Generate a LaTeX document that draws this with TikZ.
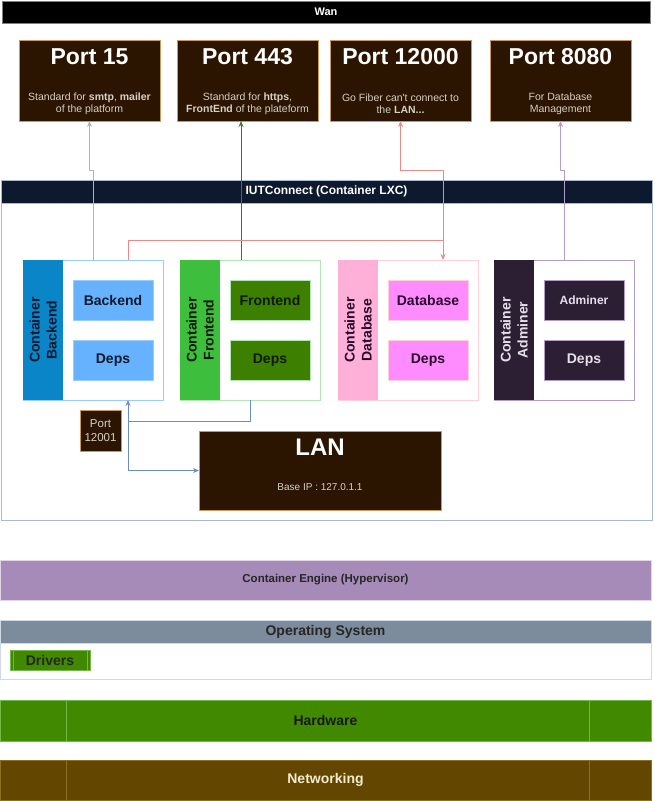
\documentclass[tikz,border=0pt]{standalone}
\usepackage{fontspec}
\setmainfont{Liberation Sans}
\usetikzlibrary{arrows.meta,positioning}
\definecolor{portfill}{HTML}{2B1500}
\definecolor{portedge}{HTML}{C99A5B}
\definecolor{porttext}{HTML}{D8CFC6}
\definecolor{lxchead}{HTML}{0D1A2E}
\definecolor{lxcedge}{HTML}{A9B8D3}
\definecolor{bkside}{HTML}{0A85C7}
\definecolor{bkedge}{HTML}{99CCFF}
\definecolor{bkinner}{HTML}{66B2FF}
\definecolor{bkink}{HTML}{0D1A2E}
\definecolor{frside}{HTML}{3DBF3D}
\definecolor{fredge}{HTML}{B3E6B3}
\definecolor{frinner}{HTML}{3D8000}
\definecolor{frink}{HTML}{0F1A05}
\definecolor{dbside}{HTML}{FFB0D8}
\definecolor{dbedge}{HTML}{FFD0D8}
\definecolor{dbinner}{HTML}{FF8CFF}
\definecolor{dbink}{HTML}{2A0A2A}
\definecolor{adside}{HTML}{2D1F33}
\definecolor{adedge}{HTML}{B39CC7}
\definecolor{adinner}{HTML}{2D1F33}
\definecolor{adink}{HTML}{E6E0EA}
\definecolor{smtpline}{HTML}{B3B3B3}
\definecolor{webline}{HTML}{3B7A2B}
\definecolor{dbline}{HTML}{EE8A86}
\definecolor{admline}{HTML}{B59ACC}
\definecolor{lanline}{HTML}{6C8EBF}
\definecolor{engfill}{HTML}{A68BB8}
\definecolor{engedge}{HTML}{E1D5E7}
\definecolor{osfill}{HTML}{7D8C9C}
\definecolor{osedge}{HTML}{D0DAE6}
\definecolor{hwfill}{HTML}{418A00}
\definecolor{hwedge}{HTML}{72B84A}
\definecolor{netfill}{HTML}{634600}
\definecolor{netedge}{HTML}{8D7020}
\definecolor{netink}{HTML}{F2ECD0}

\begin{document}
\begin{tikzpicture}[x=1pt,y=-1pt,
        every node/.style={inner sep=0pt,outer sep=0pt},
        >={Stealth[length=6pt,width=5pt]},
        box/.style={draw,anchor=north west,line width=0.8pt},
        portbox/.style={box,draw=portedge,fill=portfill,minimum width=141pt,minimum height=81pt},
        porttitle/.style={text=white,font=\bfseries\fontsize{23}{26}\selectfont},
        portsub/.style={text=porttext,align=center,font=\fontsize{10.5}{12}\selectfont},
        contbox/.style={box,fill=white,minimum width=140pt,minimum height=140pt},
        sidebox/.style={anchor=north west,minimum width=40pt,minimum height=140pt},
        sidetext/.style={rotate=90,align=center,font=\bfseries\fontsize{14}{17}\selectfont},
        appbox/.style={box,minimum width=80pt,minimum height=40pt},
        layer/.style={box,minimum width=651pt},
        conn/.style={line width=0.9pt}]
  \useasboundingbox (0,0) rectangle (654,801);
  % wan
  \node[box,draw=gray,fill=black,minimum width=648pt,minimum height=22pt,text=white,
        font=\bfseries\fontsize{11}{13}\selectfont] (wan) at (2,1) {Wan};
  % open ports
  \foreach \nm/\xx/\ttl/\sub in {p15/19/Port 15/{Standard for \textbf{smtp}, \textbf{mailer}\\of the platform},
      p443/177/Port 443/{Standard for \textbf{https},\\\textbf{FrontEnd} of the plateform},
      p12000/330/Port 12000/{Go Fiber can\textquotesingle t connect to\\the \textbf{LAN...}},
      p8080/490/Port 8080/{For Database\\Management}}{
    \node[portbox] (\nm) at (\xx,40) {};
    \node[porttitle] (\nm-t) at ([yshift=-16.5pt]\nm.north) {\ttl};
    \node[portsub] (\nm-s) at ([yshift=-64pt]\nm.north) {\sub};
  }
  % lxc
  \node[box,draw=lxcedge,minimum width=651pt,minimum height=340pt] (lxc) at (1,180) {};
  \node[box,draw=lxcedge,fill=lxchead,minimum width=651pt,minimum height=23pt,text=white,
        font=\bfseries\fontsize{12}{14}\selectfont] (lxc-head) at (1,180) {IUTConnect (Container LXC)};
  \foreach \nm/\xx/\side/\edge/\inner/\ink/\app/\appsz in {bcont/23/bkside/bkedge/bkinner/bkink/Backend/14,
      fcont/180/frside/fredge/frinner/frink/Frontend/14,
      dcont/338/dbside/dbedge/dbinner/dbink/Database/14,
      acont/494/adside/adedge/adinner/adink/Adminer/12}{
    \node[contbox,draw=\edge] (\nm) at (\xx,260) {};
    \node[sidebox,fill=\side] (\nm-side) at (\xx,260) {};
    \node[sidetext,text=\ink] at (\nm-side.center) {Container\\\app};
    \node[appbox,draw=\edge,fill=\inner,text=\ink,font=\bfseries\fontsize{\appsz}{16}\selectfont]
        (\nm-app) at (\xx+50,280) {\app};
    \node[appbox,draw=\edge,fill=\inner,text=\ink,font=\bfseries\fontsize{14}{16}\selectfont]
        (\nm-deps) at (\xx+50,340) {Deps};
  }
  \node[box,draw=portedge,fill=portfill,minimum width=41pt,minimum height=41pt,text=porttext,
        align=center,font=\fontsize{11.5}{14}\selectfont] (p12001) at (80,410) {Port\\12001};
  \node[box,draw=portedge,fill=portfill,minimum width=242pt,minimum height=79pt] (lan) at (199,431) {};
  \node[porttitle,font=\bfseries\fontsize{24}{26}\selectfont] (lan-t) at ([yshift=-16pt]lan.north) {LAN};
  \node[portsub,font=\fontsize{10}{12}\selectfont] (lan-s) at ([yshift=-56pt]lan.north) {Base IP : 127.0.1.1};
  % links to the outside
  \coordinate (kA) at (128,240);
  \coordinate (kB) at (443,240);
  \coordinate (kC) at (443,170);
  \coordinate (gF) at (241,260);
  \coordinate (jB) at (128,421);
  \draw[conn,smtpline,->] (bcont.north) -- ++(0,-90) -| (p15.south);
  \draw[conn,webline,->] (fcont.north -| gF) -- (p443.south -| gF);
  \draw[conn,dbline] (bcont.north -| kA) -- (kA) -- (kB);
  \draw[conn,dbline,->] (kB) -- (dcont.north -| kB);
  \draw[conn,dbline,->] (kB) -- (kC) -| (p12000.south);
  \draw[conn,admline,->] (acont.north) -- ++(0,-90) -| (p8080.south);
  \draw[conn,lanline] (fcont.south) |- (jB);
  \draw[conn,lanline,->] (jB) -- (bcont.south -| jB);
  \draw[conn,lanline,->] (jB) |- (lan.west);
  % host layers
  \node[layer,draw=engedge,fill=engfill,minimum height=40pt,text=black!85,
        font=\bfseries\fontsize{11.5}{14}\selectfont] (engine) at (0,560) {Container Engine (Hypervisor)};
  \node[layer,draw=osedge,fill=white,minimum height=59pt] (os) at (0,620) {};
  \node[layer,draw=osedge,fill=osfill,minimum height=23pt,text=black!85,
        font=\bfseries\fontsize{14}{16}\selectfont] (os-head) at (0,620) {Operating System};
  \node[box,draw=hwedge,fill=hwfill,minimum width=80pt,minimum height=20pt,text=black!85,
        font=\bfseries\fontsize{14}{16}\selectfont] (drivers) at (10,650) {Drivers};
  \node[layer,draw=hwedge,fill=hwfill,minimum height=41pt,text=black!90,
        font=\bfseries\fontsize{14}{16}\selectfont] (hw) at (0,700) {Hardware};
  \node[layer,draw=netedge,fill=netfill,minimum height=40pt,text=netink,
        font=\bfseries\fontsize{14}{16}\selectfont] (net) at (0,760) {Networking};
  \draw[hwedge] ([xshift=3pt]drivers.north west) -- ([xshift=3pt]drivers.south west)
    ([xshift=-3pt]drivers.north east) -- ([xshift=-3pt]drivers.south east);
  \draw[hwedge] ([xshift=66pt]hw.north west) -- ([xshift=66pt]hw.south west)
    ([xshift=-62pt]hw.north east) -- ([xshift=-62pt]hw.south east);
  \draw[netedge] ([xshift=66pt]net.north west) -- ([xshift=66pt]net.south west)
    ([xshift=-62pt]net.north east) -- ([xshift=-62pt]net.south east);
\end{tikzpicture}
\end{document}
